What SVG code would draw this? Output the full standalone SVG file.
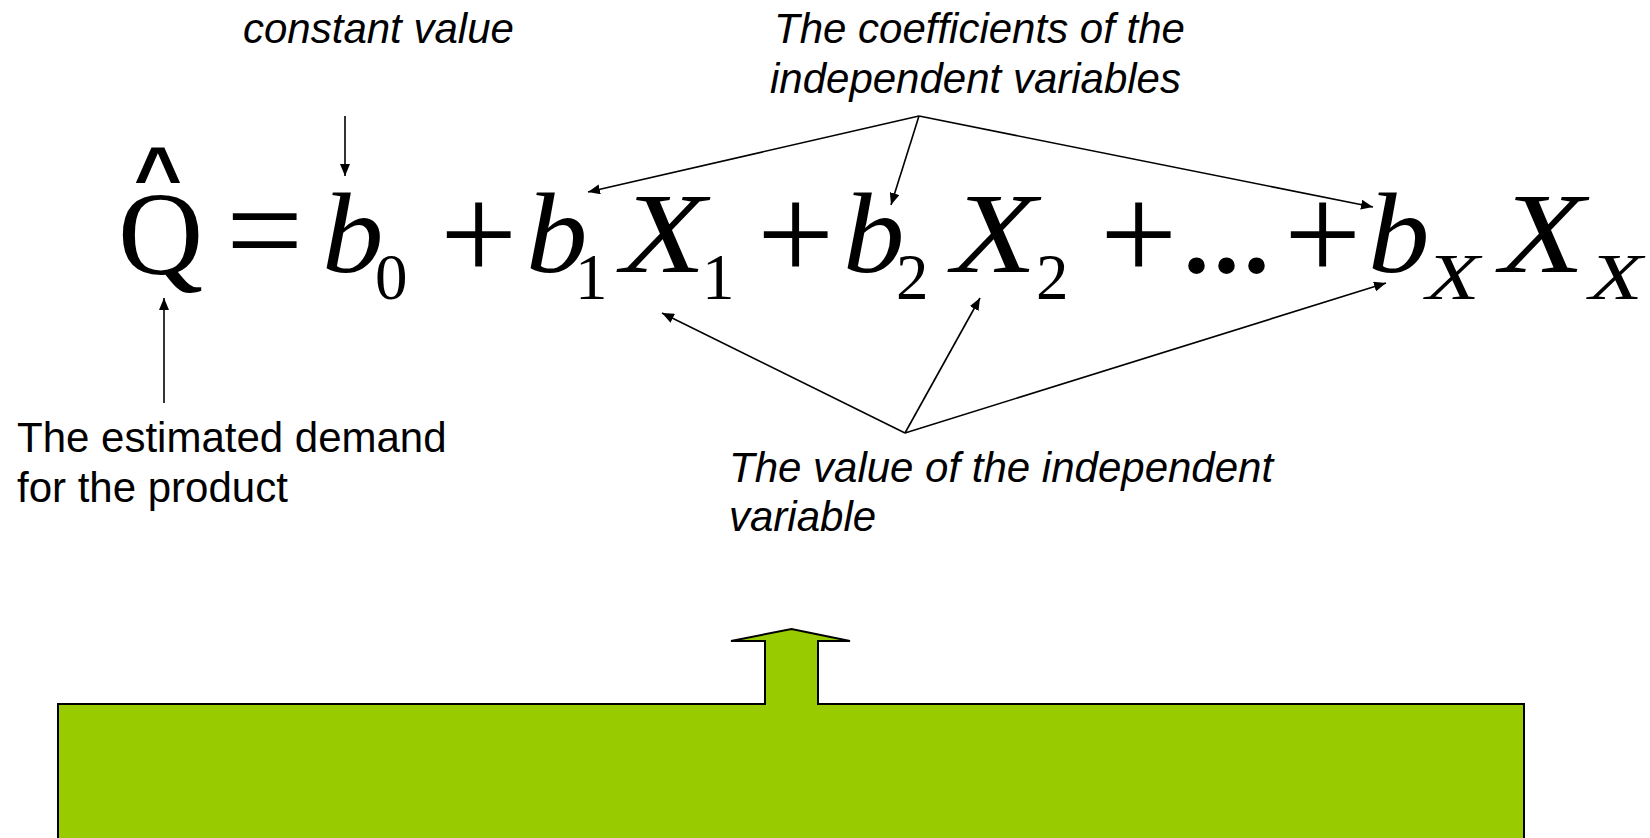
<svg xmlns="http://www.w3.org/2000/svg" width="1650" height="838" viewBox="0 0 1650 838">
<style>
.lbl{font-family:"Liberation Sans",Arial,sans-serif;font-size:42px;fill:#000}
.it{font-style:italic}
.m{font-family:"Liberation Serif","Times New Roman",serif;font-size:114px;fill:#000}
.op{font-family:"Liberation Serif","Times New Roman",serif;font-size:137px;fill:#000}
.s{font-family:"Liberation Serif","Times New Roman",serif;font-size:65px;fill:#000}
.i{font-style:italic}
.con{stroke:#000;stroke-width:1.6;fill:none;marker-end:url(#ah)}
</style>
<defs>
<marker id="ah" markerUnits="userSpaceOnUse" markerWidth="14" markerHeight="10" refX="12" refY="5" orient="auto">
<path d="M0,0 L12,5 L0,10 Z" fill="#000"/>
</marker>
</defs>
<rect width="1650" height="838" fill="#fff"/>
<g id="green-block">
<path d="M58,704 H765 V641 H731 L791.5,629 L850,641 H818 V704 H1524 V850 H58 Z" fill="#99CC00" stroke="#000" stroke-width="2"/>
</g>
<g id="equation">
<text x="134" y="204" style="font-family:'Liberation Sans',Arial,sans-serif;font-size:82px;font-weight:bold">^</text>
<text class="m" x="118" y="274" style="font-size:118px">Q</text>
<text class="op" x="226" y="276.5">=</text>
<text class="m i" transform="translate(322,272) scale(1.08,1)">b</text>
<text class="s" x="375" y="299">0</text>
<text class="op" x="440" y="280">+</text>
<text class="m i" transform="translate(526,272) scale(1.08,1)">b</text>
<text class="s" x="575" y="299">1</text>
<text class="m i" transform="translate(621,272) scale(1.22,1)">X</text>
<text class="s" x="702" y="299">1</text>
<text class="op" x="757" y="280">+</text>
<text class="m i" transform="translate(843,272) scale(1.08,1)">b</text>
<text class="s" x="896" y="299">2</text>
<text class="m i" transform="translate(952,272) scale(1.22,1)">X</text>
<text class="s" x="1036" y="299">2</text>
<text class="op" x="1100" y="280">+</text>
<text class="m" x="1179" y="272" style="font-size:140px;letter-spacing:-5px">...</text>
<text class="op" x="1284" y="280">+</text>
<text class="m i" transform="translate(1368,272) scale(1.08,1)">b</text>
<text class="s i" transform="translate(1426,299) scale(1.35,1)">X</text>
<text class="m i" transform="translate(1500,272) scale(1.22,1)">X</text>
<text class="s i" transform="translate(1589,299) scale(1.35,1)">X</text>
</g>
<g id="label-constant">
<text class="lbl it" x="243" y="43">constant value</text>
</g>
<g id="label-coefficients">
<text class="lbl it" x="774" y="43">The coefficients of the</text>
<text class="lbl it" x="770" y="93">independent variables</text>
</g>
<g id="label-demand">
<text class="lbl" x="17" y="452">The estimated demand</text>
<text class="lbl" x="17" y="502">for the product</text>
</g>
<g id="label-value">
<text class="lbl it" x="729" y="482">The value of the independent</text>
<text class="lbl it" x="729" y="531">variable</text>
</g>
<g id="connectors">
<line class="con" x1="345" y1="116" x2="345" y2="176"/>
<line class="con" x1="164" y1="403" x2="164" y2="298"/>
<line class="con" x1="919" y1="116" x2="588" y2="192"/>
<line class="con" x1="919" y1="116" x2="891" y2="205"/>
<line class="con" x1="919" y1="116" x2="1373" y2="207"/>
<line class="con" x1="905" y1="433" x2="662" y2="313"/>
<line class="con" x1="905" y1="433" x2="980" y2="298"/>
<line class="con" x1="905" y1="433" x2="1386" y2="283"/>
</g>
</svg>
